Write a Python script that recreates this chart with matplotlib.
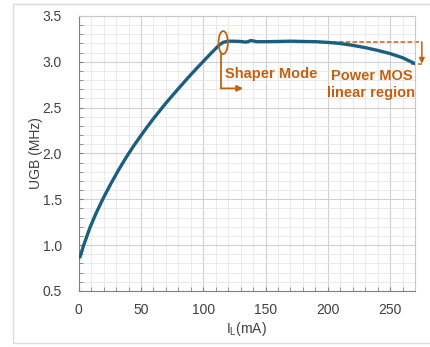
import matplotlib
matplotlib.use("Agg")
import matplotlib.pyplot as plt
from matplotlib.patches import Ellipse, Rectangle

# UGB vs load current
il_ma = [1, 4, 9, 14, 20, 26, 32, 38, 44, 50, 55, 60, 65, 70, 80, 90, 100, 106,
         110, 113, 116, 120, 125, 130, 134, 136, 138, 140, 143, 150, 160, 170,
         180, 190, 200, 210, 220, 230, 240, 250, 260, 270]
ugb_mhz = [0.87, 1.00, 1.19, 1.35, 1.52, 1.675, 1.82, 1.955, 2.08, 2.196, 2.29,
           2.38, 2.465, 2.55, 2.707, 2.86, 3.005, 3.09, 3.145, 3.185, 3.213,
           3.225, 3.225, 3.222, 3.215, 3.22, 3.232, 3.228, 3.22, 3.22, 3.222,
           3.225, 3.222, 3.22, 3.212, 3.20, 3.18, 3.155, 3.125, 3.09, 3.045, 2.98]
x_ticks = [0, 50, 100, 150, 200, 250]
y_ticks = [0.5, 1.0, 1.5, 2.0, 2.5, 3.0, 3.5]

curve_color = "#1b5f80"
orange = "#c5600f"

plt.rcParams["font.family"] = ["Liberation Sans", "DejaVu Sans"]

fig = plt.figure(figsize=(4.31, 3.47), dpi=100)
ax = fig.add_axes([0.1826, 0.1614, 0.7803, 0.7925])

# light frame around the whole picture
fig.patches.append(Rectangle((0.030, 0.0115), 1.0, 0.977, transform=fig.transFigure,
                             fill=False, edgecolor="#dcdcdc", lw=1.0))

ax.plot(il_ma, ugb_mhz, color=curve_color, lw=2.4, solid_capstyle="round", zorder=3)

ax.set_xlim(0, 270)
ax.set_ylim(0.5, 3.5)
ax.set_xticks(x_ticks)
ax.set_yticks(y_ticks)
ax.set_yticklabels([f"{v:.1f}" for v in y_ticks])
ax.set_xticks(range(0, 271, 10), minor=True)
ax.set_yticks([0.5 + 0.1 * i for i in range(31)], minor=True)
ax.grid(which="major", color="#d0d0d0", lw=0.8)
ax.grid(which="minor", color="#e6e6e6", lw=0.6)
ax.set_axisbelow(True)
ax.tick_params(which="both", direction="in", length=3, color="#808080")
ax.tick_params(axis="y", which="major", pad=12, labelsize=10, labelcolor="#404040")
ax.tick_params(axis="x", which="major", pad=9, labelsize=10, labelcolor="#404040")
for s in ["left", "bottom"]:
    ax.spines[s].set_color("#808080")
for s in ["top", "right"]:
    ax.spines[s].set_color("#c8c8c8")

ax.set_ylabel("UGB (MHz)", fontsize=10, color="#404040", labelpad=0)
ax.set_xlabel("I$_\\mathregular{L}$(mA)", fontsize=10, color="#404040", labelpad=2)

# Shaper Mode annotation
ax.add_patch(Ellipse((116, 3.21), 7.5, 0.25, fill=False, edgecolor=orange, lw=1.3,
                     zorder=4, clip_on=False))
ax.plot([114.5, 114.5], [3.085, 2.71], color=orange, lw=1.3)
ax.annotate("", xy=(132, 2.71), xytext=(114, 2.71),
            arrowprops=dict(arrowstyle="-|>", color=orange, lw=1.3,
                            mutation_scale=9, shrinkA=0, shrinkB=0))
ax.text(117.5, 2.87, "Shaper Mode", color=orange, fontsize=10.5, fontweight="bold",
        ha="left", va="center")

# Power MOS linear region annotation
ax.plot([198, 275.5], [3.215, 3.215], color=orange, lw=1.1, ls=(0, (3, 1.5)),
        clip_on=False)
ax.plot([267, 275.5], [2.98, 2.98], color=orange, lw=1.1, ls=(0, (3, 1.5)),
        clip_on=False)
ax.annotate("", xy=(275.5, 2.98), xytext=(275.5, 3.215),
            arrowprops=dict(arrowstyle="-|>", color=orange, lw=1.1,
                            mutation_scale=8, shrinkA=0, shrinkB=0),
            annotation_clip=False)
ax.text(235, 2.75, "Power MOS\nlinear region", color=orange, fontsize=10.5,
        fontweight="bold", ha="center", va="center", linespacing=1.3)

fig.savefig("out.png", dpi=100)
